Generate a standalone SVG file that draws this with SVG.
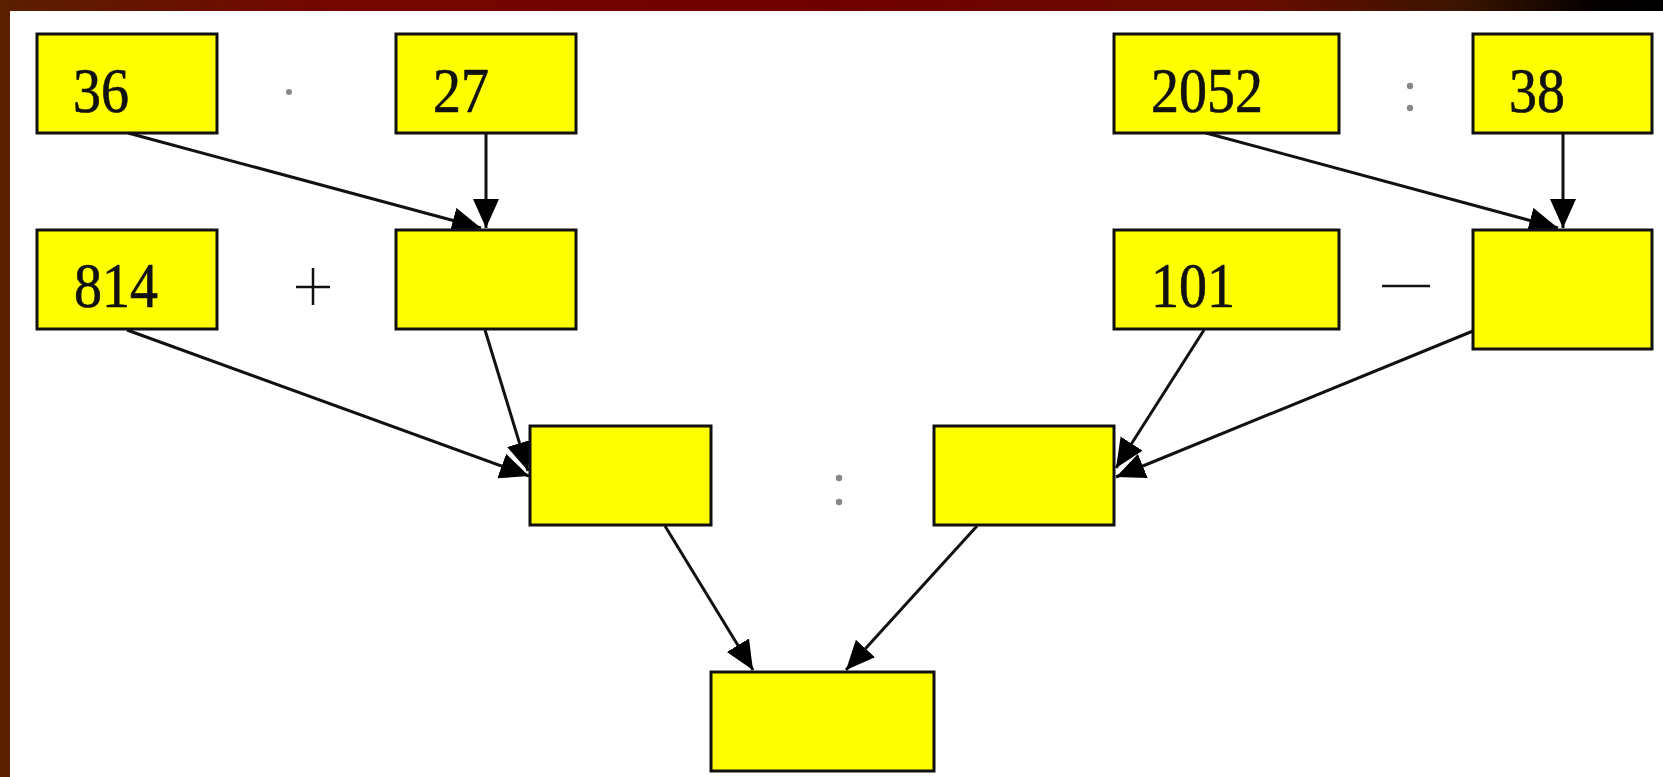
<svg xmlns="http://www.w3.org/2000/svg" width="1663" height="777" viewBox="0 0 1663 777">
<style>
.box{fill:#ffff00;stroke:#111;stroke-width:3}
.num{font-family:"Liberation Serif","Times New Roman",serif;font-size:56px;fill:#111;stroke:#111;stroke-width:0.6}
.op{fill:#888}
.ln{stroke:#111;stroke-width:3;fill:none;marker-end:url(#ah)}
</style>
<defs>
<linearGradient id="bar" x1="0" y1="0" x2="1" y2="0">
<stop offset="0" stop-color="#5a1e00"/>
<stop offset="0.2" stop-color="#750600"/>
<stop offset="0.5" stop-color="#700000"/>
<stop offset="0.75" stop-color="#6a0c00"/>
<stop offset="0.88" stop-color="#3a1400"/>
<stop offset="0.96" stop-color="#050000"/>
<stop offset="1" stop-color="#000"/>
</linearGradient>
<marker id="ah" markerUnits="userSpaceOnUse" markerWidth="32" markerHeight="28" refX="29" refY="13" orient="auto">
<path d="M0,0 L29,13 L0,26 z" fill="#000"/>
</marker>
</defs>
<rect x="0" y="0" width="1663" height="777" fill="#fff"/>
<rect x="0" y="0" width="1663" height="11" fill="url(#bar)"/>
<rect x="0" y="0" width="10" height="777" fill="#5a1e00"/>

<g id="connectors">
<line class="ln" x1="128" y1="133" x2="481" y2="228"/>
<line class="ln" x1="486" y1="133" x2="486" y2="228"/>
<line class="ln" x1="127" y1="330" x2="529" y2="476"/>
<line class="ln" x1="485" y1="330" x2="528" y2="471"/>
<line class="ln" x1="1206" y1="133" x2="1558" y2="228"/>
<line class="ln" x1="1563" y1="133" x2="1563" y2="228"/>
<line class="ln" x1="1204" y1="330" x2="1116" y2="468"/>
<line class="ln" x1="1473" y1="331" x2="1116" y2="477"/>
<line class="ln" x1="665" y1="526" x2="753" y2="670"/>
<line class="ln" x1="977" y1="526" x2="846" y2="670"/>
</g>

<g id="n36"><rect class="box" x="37" y="34" width="180" height="99"/><text class="num" transform="matrix(1,0,0,1.12,73,112)">36</text></g>
<g id="n27"><rect class="box" x="396" y="34" width="180" height="99"/><text class="num" transform="matrix(1,0,0,1.12,433,112)">27</text></g>
<g id="n2052"><rect class="box" x="1114" y="34" width="225" height="99"/><text class="num" transform="matrix(1,0,0,1.12,1151,112)">2052</text></g>
<g id="n38"><rect class="box" x="1473" y="34" width="179" height="99"/><text class="num" transform="matrix(1,0,0,1.12,1509,112)">38</text></g>
<g id="n814"><rect class="box" x="37" y="230" width="180" height="99"/><text class="num" transform="matrix(1,0,0,1.12,74,307)">814</text></g>
<g id="nprod"><rect class="box" x="396" y="230" width="180" height="99"/></g>
<g id="n101"><rect class="box" x="1114" y="230" width="225" height="99"/><text class="num" transform="matrix(1,0,0,1.12,1151,307)">101</text></g>
<g id="nquot"><rect class="box" x="1473" y="230" width="179" height="119"/></g>
<g id="nsum"><rect class="box" x="530" y="426" width="181" height="99"/></g>
<g id="ndiff"><rect class="box" x="934" y="426" width="180" height="99"/></g>
<g id="nres"><rect class="box" x="711" y="672" width="223" height="99"/></g>

<g id="operators">
<circle class="op" cx="289" cy="92" r="3"/>
<path d="M296,287 H330 M313,268 V305" stroke="#111" stroke-width="2.5"/>
<circle class="op" cx="1410" cy="86" r="3.2"/>
<circle class="op" cx="1410" cy="108" r="3.2"/>
<line x1="1382" y1="286" x2="1430" y2="286" stroke="#111" stroke-width="2.5"/>
<circle class="op" cx="839" cy="478" r="3.2"/>
<circle class="op" cx="839" cy="502" r="3.2"/>
</g>
</svg>
